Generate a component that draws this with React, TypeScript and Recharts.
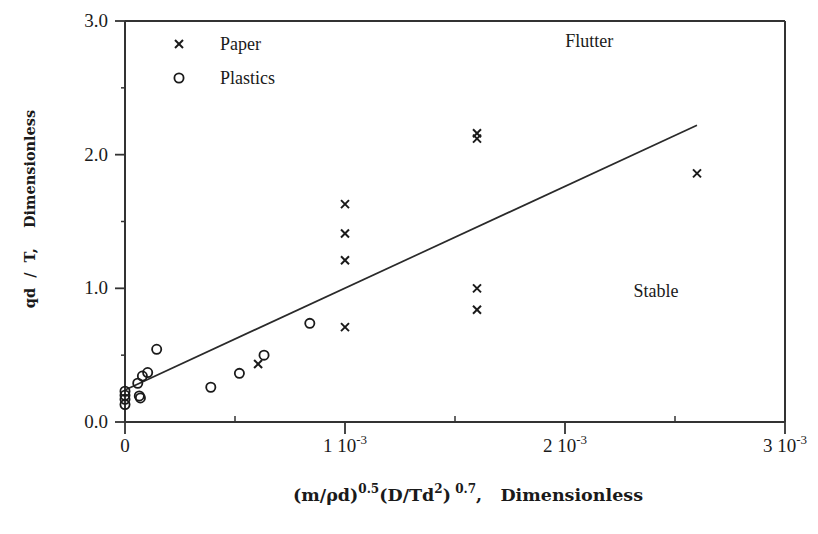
import React from 'react';
import {
  ScatterChart,
  Scatter,
  XAxis,
  YAxis,
  ReferenceLine,
  ReferenceDot,
  Legend,
} from 'recharts';

// values (x in units of 1, plotted 0..3e-3)
const paperX = [0.000605, 0.001, 0.001, 0.001, 0.001, 0.0016, 0.0016, 0.0016, 0.0016, 0.0026];
const paperY = [0.434, 0.71, 1.21, 1.41, 1.63, 0.84, 1.0, 2.12, 2.16, 1.86];

const plasticsX = [
  0, 0, 0, 0, 0.000058, 0.000065, 0.00007, 0.000079, 0.000103, 0.000144, 0.00039, 0.00052,
  0.000632, 0.00084,
];
const plasticsY = [0.13, 0.17, 0.2, 0.23, 0.29, 0.195, 0.18, 0.344, 0.37, 0.544, 0.26, 0.364, 0.5, 0.738];

const fitX = [0, 0.0026];
const fitY = [0.24, 2.22];

const xTicks = [0, 0.0005, 0.001, 0.0015, 0.002, 0.0025, 0.003];
const yTicks = [0, 0.5, 1, 1.5, 2, 2.5, 3];

const paper = paperX.map((x, i) => ({ x, y: paperY[i] }));
const plastics = plasticsX.map((x, i) => ({ x, y: plasticsY[i] }));
const fit = fitX.map((x, i) => ({ x, y: fitY[i] }));

const INK = '#1a1a1a';
const AXIS = '#333';
const SERIF = '"Liberation Serif", "Times New Roman", serif';
const BOLD_SERIF = '"DejaVu Serif", serif';

const Cross = ({ cx, cy }: any) => (
  <g stroke={INK} strokeWidth={2}>
    <line x1={cx - 4} y1={cy - 4} x2={cx + 4} y2={cy + 4} />
    <line x1={cx - 4} y1={cy + 4} x2={cx + 4} y2={cy - 4} />
  </g>
);

const Ring = ({ cx, cy }: any) => (
  <circle cx={cx} cy={cy} r={4.6} fill="none" stroke={INK} strokeWidth={1.8} />
);

const XTick = ({ x, y, payload }: any) => {
  const n = payload.value * 1000;
  const major = Math.abs(n - Math.round(n)) < 1e-6;
  if (!major) return <line x1={x} x2={x} y1={y} y2={y - 6} stroke={AXIS} strokeWidth={1.5} />;
  const k = Math.round(n);
  return (
    <g>
      <line x1={x} x2={x} y1={y} y2={y + 12} stroke={AXIS} strokeWidth={1.8} />
      <text x={x} y={y + 30} textAnchor="middle" fontFamily={SERIF} fontSize={19} fill={INK}>
        {k === 0 ? (
          '0'
        ) : (
          <>
            {`${k} 10`}
            <tspan dy={-8} fontSize={13}>
              -3
            </tspan>
          </>
        )}
      </text>
    </g>
  );
};

const YTick = ({ x, y, payload }: any) => {
  const v = payload.value;
  const major = Math.abs(v - Math.round(v)) < 1e-6;
  if (!major) return <line x1={x - 4} x2={x} y1={y} y2={y} stroke={AXIS} strokeWidth={1.5} />;
  return (
    <g>
      <line x1={x - 10} x2={x} y1={y} y2={y} stroke={AXIS} strokeWidth={1.8} />
      <text x={x - 17} y={y + 6} textAnchor="end" fontFamily={SERIF} fontSize={19} fill={INK}>
        {v.toFixed(1)}
      </text>
    </g>
  );
};

const XTitle = () => (
  <text
    x={468}
    y={501}
    textAnchor="middle"
    fontFamily={BOLD_SERIF}
    fontWeight="bold"
    fontSize={17.5}
    fill={INK}
    style={{ whiteSpace: 'pre' }}
  >
    (m/ρd)
    <tspan dy={-8} fontSize={12}>0.5</tspan>
    <tspan dy={8}>(D/Td</tspan>
    <tspan dy={-8} fontSize={12}>2</tspan>
    <tspan dy={8}>)</tspan>
    <tspan dy={-8} fontSize={12}> 0.7</tspan>
    <tspan dy={8}>,   Dimensionless</tspan>
  </text>
);

const YTitle = () => (
  <text
    x={29}
    y={209}
    transform="rotate(-90, 29, 209)"
    textAnchor="middle"
    dominantBaseline="central"
    fontFamily={BOLD_SERIF}
    fontWeight="bold"
    fontSize={14.5}
    fill={INK}
    style={{ whiteSpace: 'pre' }}
  >
    qd  /  T,    Dimensionless
  </text>
);

const LegendBox = () => (
  <svg width={140} height={60}>
    <Cross cx={11} cy={12} />
    <text x={52} y={18} fontFamily={SERIF} fontSize={18} fill={INK}>Paper</text>
    <Ring cx={11} cy={46} />
    <text x={52} y={52} fontFamily={SERIF} fontSize={18} fill={INK}>Plastics</text>
  </svg>
);

export default function App() {
  return (
    <div style={{ position: 'absolute', left: 0, top: 0, background: '#fff' }}>
      <ScatterChart width={818} height={534} margin={{ top: 21, right: 33, bottom: 72, left: 65 }}>
        <XAxis
          type="number"
          dataKey="x"
          domain={[0, 0.003]}
          ticks={xTicks}
          interval={0}
          height={40}
          tickSize={0}
          tickMargin={0}
          tickLine={false}
          tick={<XTick />}
          axisLine={{ stroke: AXIS, strokeWidth: 2 }}
          label={{ content: () => <XTitle /> }}
        />
        <YAxis
          type="number"
          dataKey="y"
          domain={[0, 3]}
          ticks={yTicks}
          interval={0}
          width={60}
          tickSize={0}
          tickMargin={0}
          tickLine={false}
          tick={<YTick />}
          axisLine={{ stroke: AXIS, strokeWidth: 2 }}
          label={{ content: () => <YTitle /> }}
        />
        <ReferenceLine y={3} stroke={AXIS} strokeWidth={2} />
        <ReferenceLine x={0.003} stroke={AXIS} strokeWidth={2} />
        <Legend
          layout="vertical"
          align="center"
          verticalAlign="middle"
          content={() => <LegendBox />}
          wrapperStyle={{ left: 168, top: 32, width: 140, height: 60 }}
        />
        <Scatter
          name="fit"
          data={fit}
          line={{ stroke: '#2a2a2a', strokeWidth: 1.7 }}
          shape={() => <g />}
          legendType="none"
          isAnimationActive={false}
        />
        <Scatter name="Paper" data={paper} shape={<Cross />} isAnimationActive={false} />
        <Scatter name="Plastics" data={plastics} shape={<Ring />} isAnimationActive={false} />
        <ReferenceDot
          x={0.00211}
          y={2.857}
          r={0}
          label={{ value: 'Flutter', position: 'center', fill: INK, fontSize: 18, fontFamily: SERIF }}
        />
        <ReferenceDot
          x={0.002414}
          y={0.98}
          r={0}
          label={{ value: 'Stable', position: 'center', fill: INK, fontSize: 18, fontFamily: SERIF }}
        />
      </ScatterChart>
    </div>
  );
}
